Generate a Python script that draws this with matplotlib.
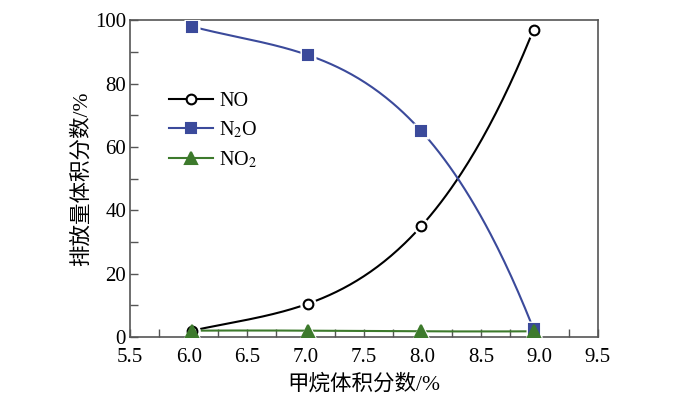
import matplotlib.pyplot as plt
import numpy as np
from matplotlib.ticker import MultipleLocator

plt.rcParams['font.family'] = ['Liberation Serif', 'Noto Sans CJK SC']
plt.rcParams['mathtext.fontset'] = 'stix'

methane = [6.03, 7.02, 7.99, 8.95]
no_vals = [2.0, 10.5, 35.0, 97.0]
n2o_vals = [98.0, 89.0, 65.0, 2.5]
no2_vals = [2.0, 2.0, 1.8, 1.8]

fig = plt.figure(figsize=(7, 3.96), dpi=100)
ax = fig.add_axes([0.186, 0.149, 0.668, 0.80])

xs = np.linspace(methane[0], methane[-1], 200)

series = [
    (no_vals, 'black', 'o', 'white', 7, 'NO'),
    (n2o_vals, '#3b4a9b', 's', '#3b4a9b', 7, 'N$_2$O'),
    (no2_vals, '#3d7a2c', '^', '#3d7a2c', 9, 'NO$_2$'),
]

for vals, col, mk, fc, ms, lab in series:
    coef = np.polyfit(methane, vals, 3)
    ax.plot(xs, np.polyval(coef, xs), color=col, lw=1.5, zorder=2)

for vals, col, mk, fc, ms, lab in series:
    ax.plot(methane, vals, ls='none', marker=mk, ms=ms + 5, mfc='white',
            mec='none', zorder=3)
for vals, col, mk, fc, ms, lab in series:
    ax.plot(methane, vals, ls='none', marker=mk, ms=ms, mfc=fc, mec=col,
            mew=1.5, zorder=4)
    ax.plot([], [], color=col, lw=1.5, marker=mk, ms=ms, mfc=fc, mec=col,
            mew=1.5, label=lab)

ax.set_xlim(5.5, 9.5)
ax.set_ylim(0, 100)
ax.xaxis.set_major_locator(MultipleLocator(0.5))
ax.xaxis.set_minor_locator(MultipleLocator(0.25))
ax.yaxis.set_major_locator(MultipleLocator(20))
ax.yaxis.set_minor_locator(MultipleLocator(10))
ax.set_xticklabels([f'{v:.1f}' for v in ax.get_xticks()])
ax.tick_params(which='both', direction='in', labelsize=15, color='#555555',
               width=1)
ax.tick_params(which='major', length=6)
ax.tick_params(which='minor', length=6)
ax.tick_params(axis='x', pad=8)
ax.tick_params(axis='y', pad=3)
for sp in ax.spines.values():
    sp.set_color('#555555')
    sp.set_linewidth(1.2)

ax.set_xlabel('甲烷体积分数/%', fontsize=15.5, labelpad=5)
ax.set_ylabel('排放量体积分数/%', fontsize=15.5, labelpad=2)

ax.legend(loc='upper left', bbox_to_anchor=(0.065, 0.80), frameon=False,
          fontsize=14.5, handlelength=2.2, labelspacing=0.45, borderaxespad=0,
          handletextpad=0.3)

fig.savefig('out.png', dpi=100)
